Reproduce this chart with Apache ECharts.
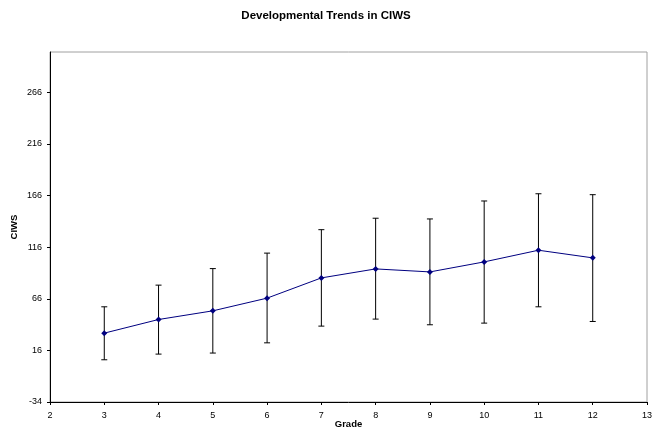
<!DOCTYPE html>
<html>
<head>
<meta charset="utf-8">
<script src="https://cdn.jsdelivr.net/npm/echarts@6/dist/echarts.min.js"></script>
<style>
html,body{margin:0;padding:0;background:#fff;}
#chart{width:652px;height:437px;}
</style>
</head>
<body>
<div id="chart"></div>
<script>
const grades = [3, 4, 5, 6, 7, 8, 9, 10, 11, 12];
const means = [32.7, 45.9, 54.3, 66.6, 86.2, 94.9, 92, 101.7, 113, 105.6];
const upper = [58.2, 79.2, 95.2, 110.2, 132.9, 144, 143.3, 160.7, 167.7, 166.8];
const lower = [6.9, 12.4, 13.4, 23.3, 39.5, 46.3, 40.8, 42.4, 58.2, 44];
const yTicks = [-34, 16, 66, 116, 166, 216, 266];
const xTicks = [2, 3, 4, 5, 6, 7, 8, 9, 10, 11, 12, 13];

const chart = echarts.init(document.getElementById('chart'));
const font = 'Arial, "Liberation Sans", sans-serif';
chart.setOption({
  animation: false,
  backgroundColor: '#fff',
  title: {
    text: 'Developmental Trends in CIWS',
    left: 'center',
    top: 5,
    textStyle: {fontFamily: font, fontSize: 11.5, fontWeight: 'bold', color: '#000'}
  },
  grid: {left: 50, right: 5, top: 52, bottom: 35, show: true, borderColor: '#a0a0a0', borderWidth: 1, outerBoundsMode: 'none', containLabel: false},
  xAxis: {
    type: 'value', min: 2, max: 13, interval: 1,
    name: 'Grade', nameLocation: 'middle', nameGap: 17, nameMoveOverlap: false,
    nameTextStyle: {fontFamily: font, fontSize: 9.5, fontWeight: 'bold', color: '#000'},
    axisLine: {onZero: false, lineStyle: {color: '#000', width: 1}},
    axisTick: {show: true, length: 3, lineStyle: {color: '#000'}, customValues: xTicks},
    axisLabel: {fontFamily: font, fontSize: 9, color: '#000', margin: 9, customValues: xTicks},
    splitLine: {show: false}
  },
  yAxis: {
    type: 'value', min: -34, max: 305,
    name: 'CIWS', nameLocation: 'middle', nameGap: 31, nameRotate: 90, nameMoveOverlap: false,
    nameTextStyle: {fontFamily: font, fontSize: 9.5, fontWeight: 'bold', color: '#000'},
    axisLine: {show: true, onZero: false, lineStyle: {color: '#000', width: 1}},
    axisTick: {show: true, length: 3, lineStyle: {color: '#000'}, customValues: yTicks},
    axisLabel: {fontFamily: font, fontSize: 9, color: '#000', margin: 8, customValues: yTicks},
    splitLine: {show: false}
  },
  series: [
    {
      type: 'custom',
      data: grades.map((g, i) => [g, lower[i], upper[i]]),
      renderItem: function (params, api) {
        const x = api.value(0);
        const lo = api.coord([x, api.value(1)]);
        const hi = api.coord([x, api.value(2)]);
        const cw = 3;
        const st = {stroke: '#000', lineWidth: 1};
        return {
          type: 'group',
          children: [
            {type: 'line', shape: {x1: lo[0], y1: lo[1], x2: hi[0], y2: hi[1]}, style: st},
            {type: 'line', shape: {x1: lo[0] - cw, y1: lo[1], x2: lo[0] + cw, y2: lo[1]}, style: st},
            {type: 'line', shape: {x1: hi[0] - cw, y1: hi[1], x2: hi[0] + cw, y2: hi[1]}, style: st}
          ]
        };
      },
      z: 1
    },
    {
      type: 'line',
      data: grades.map((g, i) => [g, means[i]]),
      lineStyle: {color: '#000080', width: 1},
      itemStyle: {color: '#000080'},
      symbol: 'diamond',
      symbolSize: 6,
      z: 3
    }
  ]
});
</script>
</body>
</html>
